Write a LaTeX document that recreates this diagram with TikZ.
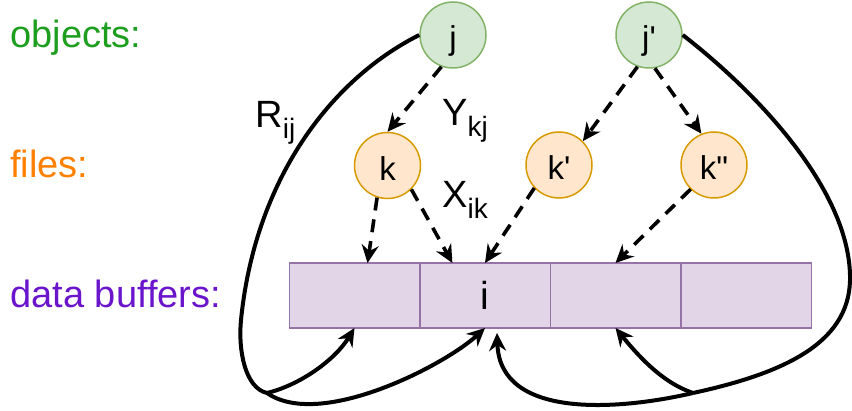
\documentclass[tikz,border=0pt]{standalone}
\usepackage{fontspec}
\setmainfont{Liberation Sans}[Ligatures=TeXOff]
\usetikzlibrary{positioning,calc,arrows.meta}

\definecolor{objtext}{RGB}{30,158,30}
\definecolor{filetext}{RGB}{255,128,0}
\definecolor{buftext}{RGB}{106,20,204}
\definecolor{objfill}{HTML}{D5E8D4}
\definecolor{objline}{HTML}{82B366}
\definecolor{filefill}{HTML}{FFE6CC}
\definecolor{fileline}{HTML}{D79B00}
\definecolor{buffill}{HTML}{E1D5E7}
\definecolor{bufline}{HTML}{9673A6}

% lowered index for the edge names
\newcommand{\lowsub}[1]{\raisebox{-5.5pt}{\fontsize{14}{16}\selectfont #1}}

\tikzset{
  obj/.style={circle, draw=objline, fill=objfill, line width=0.75pt,
    minimum size=33pt, inner sep=0pt, text height=15pt, text depth=0pt,
    font=\fontsize{16.5}{20}\selectfont},
  file/.style={obj, draw=fileline, fill=filefill},
  cell/.style={rectangle, draw=bufline, fill=buffill, line width=0.75pt,
    minimum width=65.25pt, minimum height=32.5pt, inner sep=0pt, outer sep=0pt,
    text height=14.5pt, text depth=0pt, font=\fontsize{19.5}{23}\selectfont},
  lbl/.style={inner sep=0pt, anchor=base west, font=\fontsize{19}{23}\selectfont},
  dep/.style={line width=1.8pt, dash pattern=on 6.5pt off 4.5pt,
    -{Stealth[length=9pt, width=8.5pt, inset=3pt]}},
  ref/.style={line width=2pt},
  refarr/.style={ref, -{Stealth[length=9pt, width=8.5pt, inset=3pt]}}
}

\begin{document}
        \begin{tikzpicture}[x=0.5pt, y=-0.5pt]
          \useasboundingbox (0,0) rectangle (852,411);

          % row names
          \node[lbl, text=objtext] (lobj) at (10,48) {objects:};
          \node[lbl, text=filetext] (lfile) at (10,178) {files:};
          \node[lbl, text=buftext] (lbuf) at (10,308) {data buffers:};

          % objects and files
          \node[obj] (j) at (453,35) {j};
          \node[obj] (jp) at (649,35) {j'};
          \node[file] (k) at (387.5,165.5) {k};
          \node[file] (kp) at (559,165) {k'};
          \node[file] (kpp) at (714,165) {k"};

          % buffer row
          \node[cell] (buf1) at (354.5,295.5) {};
          \node[cell, right=0pt of buf1] (buf2) {i};
          \node[cell, right=0pt of buf2] (buf3) {};
          \node[cell, right=0pt of buf3] (buf4) {};

          % dashed dependencies
          \draw[dep] (j.-110) -- (k.north);
          \draw[dep] (jp.-110) -- (kp.45);
          \draw[dep] (jp.-80) -- (kpp.112);
          \draw[dep] (k.-108) -- ($(buf1.north west)!0.6!(buf1.north east)$);
          \draw[dep] (k.-45) -- ($(buf2.north west)!0.25!(buf2.north east)$);
          \draw[dep] (kp.-137) -- (buf2.north);
          \draw[dep] (kpp.-134) -- (buf3.north);

          \node[lbl] (ykj) at (442,126) {Y\lowsub{kj}};
          \node[lbl] (xik) at (442,208) {X\lowsub{ik}};
          \node[lbl] (rij) at (255,128) {R\lowsub{ij}};

          % left loop from j
          \coordinate (ljoin) at (267,393);
          \draw[ref] (j.west) .. controls (330,80) and (255,180) .. (241,320)
            .. controls (238,350) and (245,388) .. (ljoin);
          \draw[refarr] (ljoin) .. controls (300,385) and (335,360) .. (buf1.south);
          \draw[refarr] (ljoin) .. controls (320,430) and (445,365) .. (buf2.south);

          % right loop from j'
          \coordinate (rjoin) at (693,393);
          \draw[ref] (jp.east) .. controls (760,95) and (848,190) .. (850,275)
            .. controls (852,340) and (790,372) .. (rjoin);
          \draw[refarr] (rjoin) .. controls (670,385) and (649,369) .. (buf3.south);
          \draw[refarr] (rjoin) .. controls (620,410) and (500,420) .. ($(buf2.south)+(12,5)$);
        \end{tikzpicture}
\end{document}
